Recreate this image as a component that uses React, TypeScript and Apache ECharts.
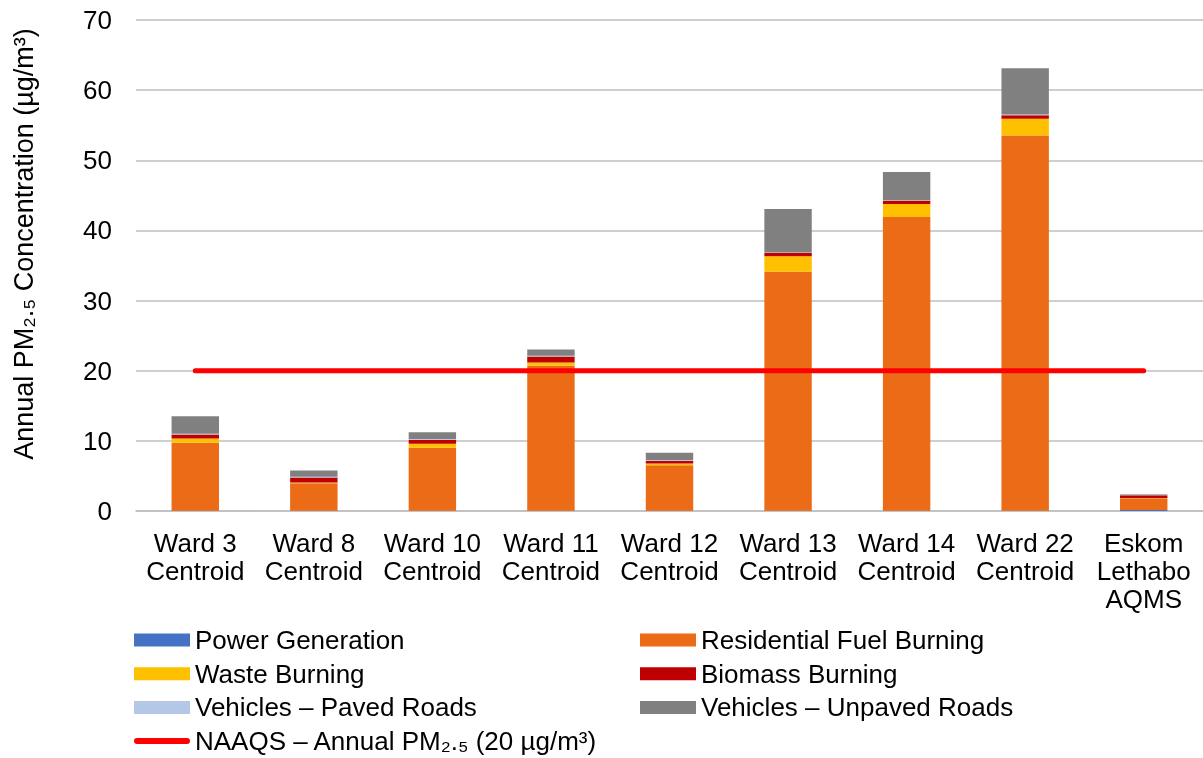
import React, { useEffect, useRef } from "react";
import * as echarts from "echarts";

const categories = [
  "Ward 3\nCentroid",
  "Ward 8\nCentroid",
  "Ward 10\nCentroid",
  "Ward 11\nCentroid",
  "Ward 12\nCentroid",
  "Ward 13\nCentroid",
  "Ward 14\nCentroid",
  "Ward 22\nCentroid",
  "Eskom\nLethabo\nAQMS",
];

const powerGeneration = [0.02, 0.02, 0.02, 0.02, 0.02, 0.02, 0.02, 0.02, 0.15];
const residentialFuel = [9.7, 3.95, 9.0, 20.7, 6.5, 34.1, 41.9, 53.5, 1.65];
const wasteBurning = [0.6, 0.1, 0.55, 0.45, 0.25, 2.2, 1.85, 2.4, 0.05];
const biomassBurning = [0.6, 0.7, 0.6, 0.85, 0.4, 0.45, 0.45, 0.5, 0.4];
const pavedRoads = [0.1, 0.1, 0.1, 0.1, 0.1, 0.1, 0.1, 0.1, 0.05];
const unpavedRoads = [2.5, 0.9, 0.95, 0.9, 1.05, 6.2, 4.0, 6.6, 0.1];
const naaqsLimit = 20;

const yTicks = { min: 0, max: 70, interval: 10 };

const FONT = "'Liberation Sans', Arial, sans-serif";
const FS = 26;

const NAAQS_NAME = "NAAQS – Annual PM₂.₅ (20 µg/m³)";
const Y_TITLE = "Annual PM₂.₅ Concentration (µg/m³)";

export default function App() {
  const ref = useRef<HTMLDivElement>(null);

  useEffect(() => {
    if (!ref.current) return;
    const chart = echarts.init(ref.current, undefined, { renderer: "svg" });

    const barSeries = (name: string, data: number[], color: string) => ({
      name,
      type: "bar",
      stack: "total",
      data,
      barWidth: "40%",
      itemStyle: { color },
      emphasis: { disabled: true },
    });

    const legendBase = {
      orient: "vertical",
      padding: 0,
      itemWidth: 56,
      itemHeight: 13,
      itemGap: 7.7,
      textStyle: { fontSize: FS, color: "#000", fontFamily: FONT },
    };

    chart.setOption({
      animation: false,
      textStyle: { fontFamily: FONT },
      grid: { left: 136, right: 0, top: 20, bottom: 247, containLabel: false },
      legend: [
        {
          ...legendBase,
          left: 134,
          top: 627,
          data: [
            { name: "Power Generation", icon: "rect" },
            { name: "Waste Burning", icon: "rect" },
            { name: "Vehicles – Paved Roads", icon: "rect" },
          ],
        },
        {
          ...legendBase,
          left: 640,
          top: 627,
          data: [
            { name: "Residential Fuel Burning", icon: "rect" },
            { name: "Biomass Burning", icon: "rect" },
            { name: "Vehicles – Unpaved Roads", icon: "rect" },
          ],
        },
        {
          ...legendBase,
          left: 134,
          top: 728,
          itemHeight: 6,
          data: [
            {
              name: NAAQS_NAME,
              icon: "path://M3,0 L53,0 A3,3 0 0 1 53,6 L3,6 A3,3 0 0 1 3,0 Z",
            },
          ],
        },
      ],
      graphic: [
        {
          type: "text",
          x: 24,
          y: 244,
          rotation: Math.PI / 2,
          style: {
            text: Y_TITLE,
            fontSize: 27,
            fontFamily: FONT,
            fill: "#000",
            align: "center",
            verticalAlign: "middle",
          },
        },
      ],
      xAxis: {
        type: "category",
        data: categories,
        axisLine: { lineStyle: { color: "#bfbfbf", width: 1.5 } },
        axisTick: { show: false },
        axisLabel: {
          interval: 0,
          color: "#000",
          fontSize: FS,
          lineHeight: 28,
          margin: 18,
          fontFamily: FONT,
        },
      },
      yAxis: {
        type: "value",
        min: yTicks.min,
        max: yTicks.max,
        interval: yTicks.interval,
        axisLine: { show: false },
        axisTick: { show: false },
        axisLabel: { color: "#000", fontSize: FS, margin: 24, fontFamily: FONT },
        splitLine: { lineStyle: { color: "#bfbfbf", width: 1.5 } },
      },
      series: [
        barSeries("Power Generation", powerGeneration, "#4472c4"),
        barSeries("Residential Fuel Burning", residentialFuel, "#eb6b16"),
        barSeries("Waste Burning", wasteBurning, "#ffc000"),
        barSeries("Biomass Burning", biomassBurning, "#c00000"),
        barSeries("Vehicles – Paved Roads", pavedRoads, "#b4c7e7"),
        barSeries("Vehicles – Unpaved Roads", unpavedRoads, "#808080"),
        {
          name: NAAQS_NAME,
          type: "line",
          data: categories.map(() => naaqsLimit),
          symbol: "none",
          z: 5,
          lineStyle: { color: "#ff0000", width: 5, cap: "round" },
          itemStyle: { color: "#ff0000" },
          emphasis: { disabled: true },
        },
      ],
    });

    return () => chart.dispose();
  }, []);

  return (
    <div
      ref={ref}
      style={{ position: "fixed", left: 0, top: 0, width: 1203, height: 758 }}
    />
  );
}
